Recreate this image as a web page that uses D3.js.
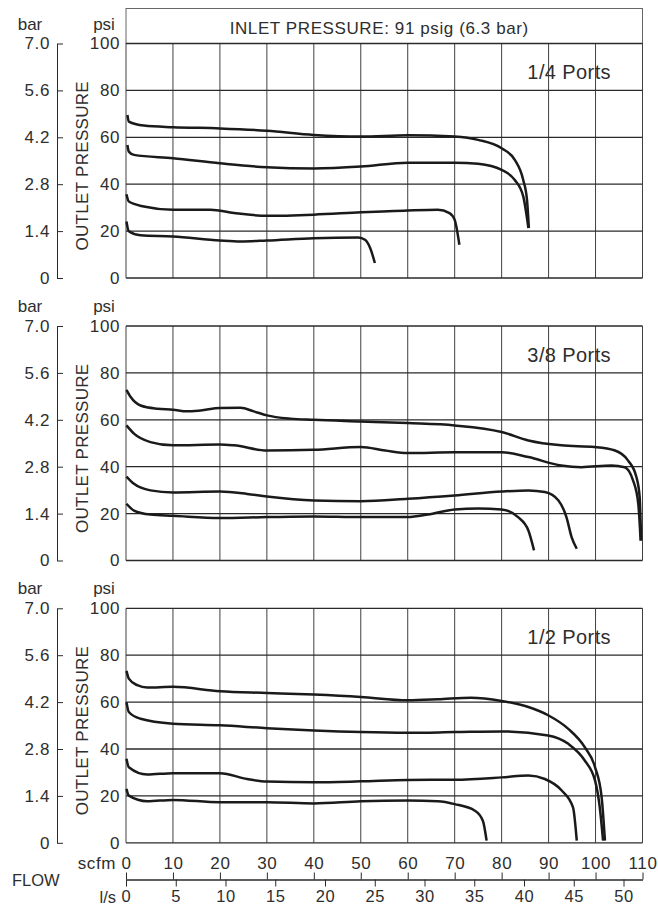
<!DOCTYPE html>
<html>
<head>
<meta charset="utf-8">
<script src="https://cdn.jsdelivr.net/npm/d3@7"></script>
<style>
  body { margin: 0; background: #fff; }
  svg { display: block; font-family: "Liberation Sans", Arial, sans-serif; }
  text { fill: #2e2e2e; }
</style>
</head>
<body>
<svg id="chart" width="658" height="909"></svg>
<script>
// panel labels
const portLabels = ["1/4 Ports", "3/8 Ports", "1/2 Ports"];
const psiTicks = [0, 20, 40, 60, 80, 100];
const barTicks = [0, 1.4, 2.8, 4.2, 5.6, 7.0];
const scfmTicks = [0, 10, 20, 30, 40, 50, 60, 70, 80, 90, 100, 110];
const lsTicks = [0, 5, 10, 15, 20, 25, 30, 35, 40, 45, 50];

// curves: [scfm, psi]
const quarterA = [[0.3,69.5],[0.6,66.7],[3.8,65],[10,64.3],[20,63.8],[30,62.8],[40,61],[50,60.3],[60,60.9],[70,60.3],[75,58.9],[80,55.3],[82.8,50.4],[84.6,41.8],[85.4,33.3],[85.8,21.3]];
const quarterB = [[0.3,56.7],[0.6,53.9],[1.7,52.5],[10,51.1],[20,48.9],[30,47.2],[40,46.7],[50,47.5],[60,49.2],[70,49.2],[75,48.7],[80,46.1],[82.8,41.8],[84.6,34.8],[85.7,21.3]];
const quarterC = [[0.1,35.7],[0.6,32.6],[3.8,30.5],[10,29.1],[18,29.1],[23,27.7],[30,26.5],[40,27],[50,28],[60,28.8],[66.4,29.1],[68.9,27.7],[70,24.8],[71,14.2]];
const quarterD = [[0.1,24.1],[0.6,19.9],[3.1,18.2],[10,17.7],[20,16],[24.4,15.6],[30,16],[40,17],[49.5,17.3],[50.9,16.3],[52,12.8],[53,6.4]];

const threeEighthA = [[0.1,72.8],[1,69.7],[3.1,66.1],[6.7,64.7],[10,64.3],[13,63.6],[15.9,64],[20,65],[24.4,65.1],[27.2,63.6],[30,61.9],[35,60.5],[40,60],[50,59.3],[60,58.6],[70,57.6],[80,54.8],[85.7,51.2],[92.7,49.1],[99.8,48.4],[104,47],[106.9,42.7],[108.7,35.6],[109.4,27],[109.7,8.5]];
const threeEighthB = [[0.1,57.6],[1.7,54.1],[5.2,50.5],[10,49.1],[20,49.5],[23,49.1],[30,46.9],[40,47.2],[50,48.4],[55.2,46.9],[60,45.8],[70,46.2],[80,46.2],[85.7,44.1],[92.7,40.5],[97,39.8],[103.4,40.5],[106.2,39.8],[108,34.1],[109.1,24.2],[109.6,8.5]];
const threeEighthC = [[0.1,35.8],[1.7,32.7],[5.2,29.9],[10,29],[20,29.4],[25.8,28.4],[30,27.3],[40,25.6],[50,25.3],[60,26.3],[70,27.7],[80,29.4],[85.7,29.9],[89.2,29.2],[92.1,25.6],[93.8,18.5],[94.9,10],[96,5]];
const threeEighthD = [[0.1,24.2],[1.7,21.3],[5.2,19.6],[10,19.1],[20,18.1],[30,18.5],[40,18.8],[50,18.5],[60,18.5],[64.3,19.6],[70,21.8],[75,22.2],[80,21.8],[83.5,18.5],[85.7,12.8],[86.9,4.3]];

const halfA = [[0.1,73.3],[0.6,70],[2.4,67.2],[4.5,66.2],[10,66.5],[20,64.6],[30,63.9],[40,63.2],[50,62.2],[60,60.8],[66.4,61.2],[73.5,61.9],[80,60.5],[85.7,57.9],[89.9,54.4],[94.2,48.6],[97.7,40.8],[99.9,32.2],[101.3,19.4],[102,0.9]];
const halfB = [[0.1,60],[0.6,55.8],[3.1,52.9],[10,50.8],[20,50.1],[30,48.9],[40,47.9],[50,47.2],[60,46.9],[70,47.2],[80,47.5],[89.9,45.8],[94.2,42.2],[97.7,35.1],[99.9,26.5],[100.9,15.1],[101.6,0.9]];
const halfC = [[0.1,35.8],[0.6,32.2],[4.5,29.1],[10,29.7],[20,29.7],[25.8,27.2],[30,26.1],[40,25.8],[50,26.2],[60,26.8],[70,26.9],[80,27.9],[85.7,28.7],[89.2,27.2],[92.8,22.3],[95.2,15.1],[96,0.9]];
const halfD = [[0.1,23],[0.6,20.1],[4.5,17.7],[10,18.3],[20,17.3],[30,17.3],[40,16.8],[50,17.7],[60,18],[66.4,17.7],[70,16.5],[74.3,13.7],[76,9.4],[76.8,0.9]];

const panelCurves = [
  [quarterA, quarterB, quarterC, quarterD],
  [threeEighthA, threeEighthB, threeEighthC, threeEighthD],
  [halfA, halfB, halfC, halfD]
];

const plotLeft = 126, plotRight = 642.5;
const plotH = 234.5;
const panelTops = [43.5, 326, 608.3];

const svg = d3.select("#chart");

const x = d3.scaleLinear().domain([0, 110]).range([plotLeft, plotRight]);
const yLocal = d3.scaleLinear().domain([0, 100]).range([plotH, 0]);
const barScale = d3.scaleLinear().domain([0, 7]).range([plotH, 0]);

const line = d3.line()
  .x(d => x(d[0]))
  .y(d => yLocal(d[1]))
  .curve(d3.curveMonotoneX);

function styleLabels(sel, size) {
  sel.selectAll("text")
    .style("font-size", size)
    .style("font-family", "Liberation Sans, Arial, sans-serif")
    .style("letter-spacing", "0.6px")
    .attr("fill", "#2e2e2e");
}

// title box over first panel
svg.append("rect")
  .attr("x", plotLeft)
  .attr("y", 8.5)
  .attr("width", plotRight - plotLeft)
  .attr("height", panelTops[0] - 8.5)
  .attr("fill", "none")
  .attr("stroke", "#666")
  .attr("stroke-width", 1);

svg.append("text")
  .attr("x", (plotLeft + plotRight) / 2 - 5)
  .attr("y", 33.5)
  .attr("text-anchor", "middle")
  .style("font-size", "17px")
  .style("letter-spacing", "0.6px")
  .text("INLET PRESSURE: 91 psig (6.3 bar)");

panelTops.forEach((top, i) => {
  const g = svg.append("g").attr("transform", `translate(0,${top})`);

  // grid
  g.append("g")
    .selectAll("line")
    .data(scfmTicks)
    .join("line")
    .attr("x1", d => x(d)).attr("x2", d => x(d))
    .attr("y1", 0).attr("y2", plotH)
    .attr("stroke", "#404040")
    .attr("stroke-width", 1);

  g.append("g")
    .selectAll("line")
    .data(psiTicks)
    .join("line")
    .attr("x1", plotLeft).attr("x2", plotRight)
    .attr("y1", d => yLocal(d)).attr("y2", d => yLocal(d))
    .attr("stroke", "#2a2a2a")
    .attr("stroke-width", 1.3);

  // psi axis labels
  const psiAxis = g.append("g")
    .attr("transform", `translate(${plotLeft},0)`)
    .call(d3.axisLeft(yLocal).tickValues(psiTicks).tickSize(0).tickPadding(6));
  psiAxis.select(".domain").remove();
  styleLabels(psiAxis, "17px");

  // bar axis
  const barAxis = g.append("g")
    .attr("transform", "translate(57,0)")
    .call(d3.axisLeft(barScale).tickValues(barTicks).tickSize(-6).tickSizeOuter(0).tickPadding(7)
      .tickFormat(d => d === 0 ? "0" : d3.format(".1f")(d)));
  barAxis.select(".domain").attr("stroke", "#2a2a2a");
  barAxis.selectAll("line").attr("stroke", "#2a2a2a");
  styleLabels(barAxis, "17px");

  // unit labels
  g.append("text").attr("x", 30).attr("y", -14).attr("text-anchor", "middle")
    .style("font-size", "17px").text("bar");
  g.append("text").attr("x", 104).attr("y", -14).attr("text-anchor", "middle")
    .style("font-size", "17px").text("psi");

  // rotated axis title
  g.append("text")
    .attr("transform", `translate(88,${plotH / 2 + 5}) rotate(-90)`)
    .attr("text-anchor", "middle")
    .style("font-size", "17px")
    .style("letter-spacing", "0.3px")
    .text("OUTLET PRESSURE");

  // port label
  g.append("text")
    .attr("x", 611)
    .attr("y", yLocal(90) + 12.5)
    .attr("text-anchor", "end")
    .style("font-size", "20px")
    .style("letter-spacing", "0.4px")
    .text(portLabels[i]);

  // curves
  g.append("g")
    .selectAll("path")
    .data(panelCurves[i])
    .join("path")
    .attr("d", line)
    .attr("fill", "none")
    .attr("stroke", "#1a1a1a")
    .attr("stroke-width", 2.5);
});

// bottom flow axes
const axisY = 879.5;
const lsPerScfm = 0.4719;

const scfmAxis = svg.append("g")
  .attr("transform", `translate(0,${axisY})`)
  .call(d3.axisTop(x).tickValues(scfmTicks).tickSize(7).tickPadding(6).tickSizeOuter(0));
scfmAxis.select(".domain").attr("stroke", "#2a2a2a").attr("stroke-width", 1.3);
scfmAxis.selectAll("line").attr("stroke", "#2a2a2a");
scfmAxis.selectAll("text").attr("y", -11);
styleLabels(scfmAxis, "17px");

const xLs = d3.scaleLinear().domain([0, 110 * lsPerScfm]).range([plotLeft, plotRight]);
const lsAxis = svg.append("g")
  .attr("transform", `translate(0,${axisY})`)
  .call(d3.axisBottom(xLs).tickValues(lsTicks).tickSize(7).tickPadding(4).tickSizeOuter(0));
lsAxis.select(".domain").remove();
lsAxis.selectAll("line").attr("stroke", "#2a2a2a");
styleLabels(lsAxis, "16.5px");

svg.append("text").attr("x", 116).attr("y", 869).attr("text-anchor", "end")
  .style("font-size", "17px").style("letter-spacing", "0.6px").text("scfm");
svg.append("text").attr("x", 116).attr("y", 903).attr("text-anchor", "end")
  .style("font-size", "16.5px").text("l/s");
svg.append("text").attr("x", 12).attr("y", 886)
  .style("font-size", "16.5px").text("FLOW");
</script>
</body>
</html>
